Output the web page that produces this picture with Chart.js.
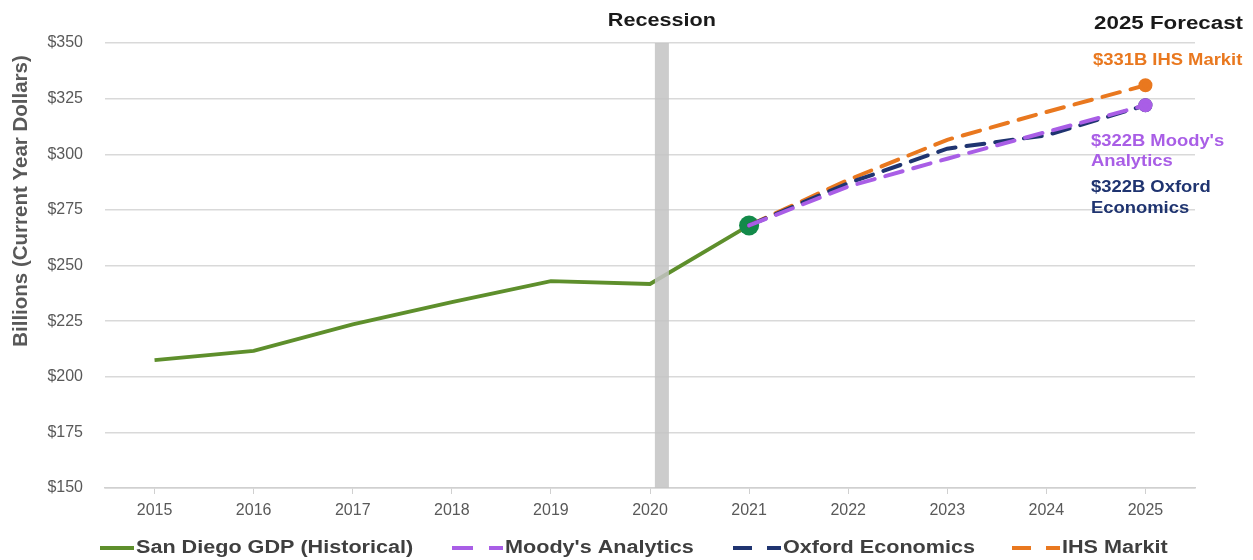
<!DOCTYPE html>
<html>
<head>
<meta charset="utf-8">
<script src="https://cdn.jsdelivr.net/npm/chart.js@4/dist/chart.umd.min.js"></script>
<style>
  html, body { margin: 0; padding: 0; background: #fff; }
  #wrap { width: 1253px; height: 560px; position: relative; }
</style>
</head>
<body>
<div id="wrap"><canvas id="gdpChart"></canvas></div>
<script>
// données (milliards de dollars)
const years = ['2015', '2016', '2017', '2018', '2019', '2020', '2021', '2022', '2023', '2024', '2025'];
const historical = [207.5, 211.6, 223.5, 233.5, 243, 241.7, 268, null, null, null, null];
const moodys = [null, null, null, null, null, null, 268, 285.5, 298, 310, 322];
const oxford = [null, null, null, null, null, null, 268, 287, 302.5, 308.5, 322];
const ihs = [null, null, null, null, null, null, 268, 288.5, 306.5, 319, 331];
const yTicks = [150, 175, 200, 225, 250, 275, 300, 325, 350];

const GREEN = '#5e8f2c';
const PURPLE = '#a95ee6';
const NAVY = '#1f3470';
const ORANGE = '#e9781f';
const TXT = '#595959';

const FONT = "'Liberation Sans', Arial, sans-serif";

// texte un peu étiré en largeur, comme sur l'original
function wideText(ctx, text, x, y, align, sx) {
  ctx.save();
  ctx.translate(x, y);
  ctx.scale(sx, 1);
  ctx.textAlign = align;
  ctx.fillText(text, 0, 0);
  ctx.restore();
}

// texte, barre de récession et légende dessinés à la main
const extras = {
  id: 'extras',
  afterDatasetsDraw(chart) {
    const { ctx, chartArea, scales } = chart;
    const x = scales.x;

    // barre grise de la récession (un peu après 2020)
    const rx = x.getPixelForValue(5.12);
    ctx.save();
    ctx.fillStyle = 'rgba(195,195,195,0.85)';
    ctx.fillRect(rx - 7, chartArea.top, 14, chartArea.bottom - chartArea.top);

    ctx.textBaseline = 'middle';
    ctx.fillStyle = '#1a1a1a';
    ctx.font = 'bold 18px ' + FONT;
    wideText(ctx, 'Recession', rx, 21, 'center', 1.2);
    wideText(ctx, '2025 Forecast', 1243, 24, 'right', 1.24);

    // étiquettes des prévisions
    ctx.font = 'bold 16px ' + FONT;
    ctx.fillStyle = ORANGE;
    wideText(ctx, '$331B IHS Markit', 1093, 61, 'left', 1.15);
    ctx.fillStyle = PURPLE;
    wideText(ctx, "$322B Moody's", 1091, 142, 'left', 1.15);
    wideText(ctx, 'Analytics', 1091, 162, 'left', 1.15);
    ctx.fillStyle = NAVY;
    wideText(ctx, '$322B Oxford', 1091, 188, 'left', 1.15);
    wideText(ctx, 'Economics', 1091, 209, 'left', 1.15);

    // titre de l'axe y
    ctx.save();
    ctx.translate(21, 201);
    ctx.rotate(-Math.PI / 2);
    ctx.textAlign = 'center';
    ctx.fillStyle = TXT;
    ctx.font = 'bold 20.5px ' + FONT;
    ctx.fillText('Billions (Current Year Dollars)', 0, 0);
    ctx.restore();

    // légende
    const items = [
      { x: 100, len: 34, color: GREEN, dash: [], label: 'San Diego GDP (Historical)' },
      { x: 452, len: 51, color: PURPLE, dash: [21, 16], label: "Moody's Analytics" },
      { x: 733, len: 48, color: NAVY, dash: [19, 15], label: 'Oxford Economics' },
      { x: 1012, len: 48, color: ORANGE, dash: [19, 15], label: 'IHS Markit' }
    ];
    const ly = 548;
    items.forEach(it => {
      ctx.strokeStyle = it.color;
      ctx.lineWidth = 4;
      ctx.setLineDash(it.dash);
      ctx.beginPath();
      ctx.moveTo(it.x, ly);
      ctx.lineTo(it.x + it.len, ly);
      ctx.stroke();
      ctx.setLineDash([]);
      ctx.fillStyle = '#3f3f3f';
      ctx.font = 'bold 18px ' + FONT;
      wideText(ctx, it.label, it.x + it.len + 2, ly, 'left', 1.2);
    });
    ctx.restore();
  }
};

const dashed = (label, data, color) => ({
  label: label,
  data: data,
  borderColor: color,
  backgroundColor: color,
  borderWidth: 4,
  borderDash: [18, 11],
  borderCapStyle: 'round',
  tension: 0,
  spanGaps: false,
  pointRadius: data.map((v, i) => i === data.length - 1 ? 5 : 0),
  pointHoverRadius: 0
});

new Chart(document.getElementById('gdpChart'), {
  type: 'line',
  data: {
    labels: years,
    datasets: [
      dashed("Moody's Analytics", moodys, PURPLE),
      dashed('Oxford Economics', oxford, NAVY),
      dashed('IHS Markit', ihs, ORANGE),
      {
        label: 'San Diego GDP (Historical)',
        data: historical,
        borderColor: GREEN,
        backgroundColor: '#138a4a',
        borderWidth: 3.8,
        tension: 0,
        pointRadius: historical.map((v, i) => i === 6 ? 10 : 0),
        pointBorderWidth: 0,
        pointHoverRadius: 0
      }
    ]
  },
  options: {
    responsive: true,
    maintainAspectRatio: false,
    animation: false,
    events: [],
    layout: { padding: { top: 43, right: 58, bottom: 32, left: 0 } },
    plugins: {
      legend: { display: false },
      tooltip: { enabled: false }
    },
    scales: {
      y: {
        min: 150,
        max: 350,
        afterBuildTicks: (s) => { s.ticks = yTicks.map(v => ({ value: v })); },
        afterFit: (s) => { s.width = 105; },
        border: { display: false },
        grid: { color: '#d9d9d9', lineWidth: 1.5, drawTicks: false },
        ticks: {
          padding: 22,
          color: TXT,
          font: { family: FONT, size: 16 },
          callback: (v) => '$' + v
        }
      },
      x: {
        offset: true,
        afterFit: (s) => { s.height = 40; },
        border: { display: true, color: '#d0d0d0', width: 1.5 },
        grid: { display: true, drawOnChartArea: false, drawTicks: true, tickLength: 6, color: '#d0d0d0' },
        ticks: {
          padding: 7,
          color: TXT,
          maxRotation: 0,
          font: { family: FONT, size: 16 }
        }
      }
    }
  },
  plugins: [extras]
});
</script>
</body>
</html>
